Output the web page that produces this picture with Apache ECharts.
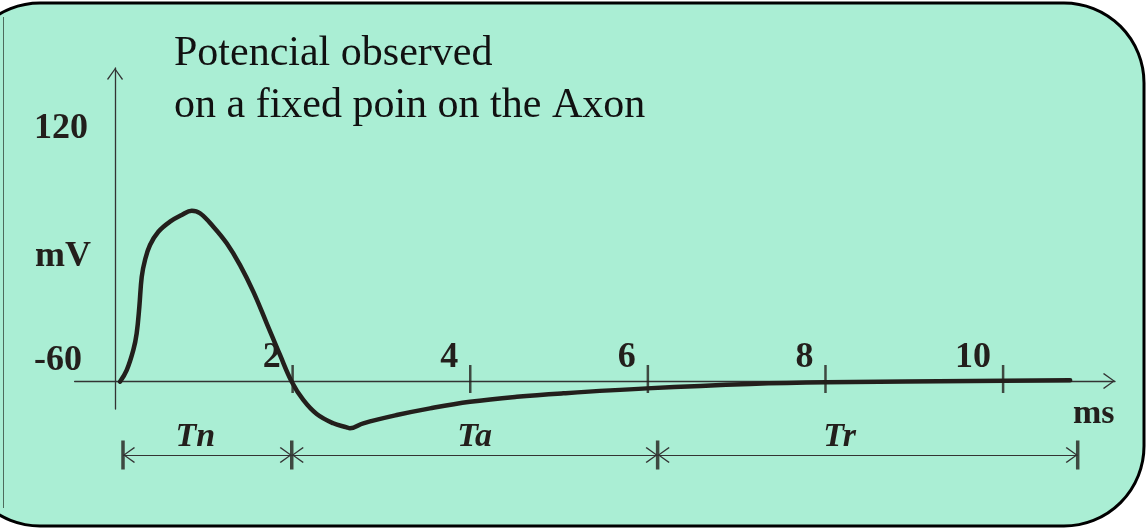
<!DOCTYPE html>
<html>
<head>
<meta charset="utf-8">
<script src="https://cdn.jsdelivr.net/npm/echarts@6/dist/echarts.min.js"></script>
<style>
  body { margin: 0; background: #fff; }
  #chart { width: 1146px; height: 529px; }
</style>
</head>
<body>
<div id="chart"></div>
<script>
  // 曲线：时间(ms) 和 膜电位(mV)
  var timeMs = [0.056, 0.132, 0.206, 0.244, 0.274, 0.301, 0.338, 0.394, 0.488, 0.619, 0.751, 0.864,
                0.957, 1.107, 1.258, 1.408, 1.557, 1.708, 1.858, 1.990, 2.120, 2.271, 2.458, 2.609,
                2.646, 2.796, 3.172, 3.547, 3.998, 4.524, 5.048, 5.988, 7.151, 8.007, 10.755];
  var potential = [-60.5, -51.5, -36.0, -23.0, -2.4, 20.9, 33.9, 45.5, 55.8, 63.6, 68.8, 72.1,
                   70.1, 59.7, 46.8, 29.9, 9.3, -15.2, -39.8, -60.5, -74.7, -85.6, -92.8, -95.9,
                   -96.7, -92.8, -86.4, -81.2, -76.1, -72.2, -69.5, -65.7, -62.3, -61.0, -59.4];
  var restPotential = -60;
  var xTicks = [2, 4, 6, 8, 10];
  var yLabels = [-60, 120];
  // 三个阶段
  var phaseNames = ['Tn', 'Ta', 'Tr'];
  var phaseStart = [0.09, 1.99, 6.11];
  var phaseEnd = [1.99, 6.11, 10.84];
  var phaseLabelShift = [12, 0, 28];

  var font = 'Liberation Serif';
  var ink = '#231f1c';
  // 开口箭头，尖端在图形中心
  var chevron = 'path://M0,-12L0,-12M0,0L8,11L7,12L0,2L-7,12L-8,11Z';

  var curve = timeMs.map(function (t, i) { return [t, potential[i]]; });
  var tickMarks = xTicks.map(function (t) { return [t, restPotential]; });
  var phaseEdges = phaseStart.concat([phaseEnd[phaseEnd.length - 1]]).map(function (t) { return [t, 0.5]; });
  var phaseLines = phaseNames.map(function (n, i) {
    return [
      { name: n, coord: [phaseStart[i], 0.5], label: { padding: [0, phaseLabelShift[i] * 2, 0, 0] } },
      { coord: [phaseEnd[i], 0.5] }
    ];
  });

  var xMin = -0.455, xMax = 11.26;
  var yMin = -81.7, yMax = 182.8;

  var myChart = echarts.init(document.getElementById('chart'));
  var option = {
    animation: false,
    backgroundColor: '#fff',
    graphic: [
      {
        type: 'rect', z: -1,
        shape: { x: -40, y: 3, width: 1184, height: 523, r: 80 },
        style: { fill: '#aaeed4', stroke: '#000', lineWidth: 3 }
      },
      {
        type: 'line', z: -1,
        shape: { x1: 3.5, y1: 17, x2: 3.5, y2: 508 },
        style: { stroke: '#4d6b5c', lineWidth: 1 }
      }
    ],
    title: {
      text: 'Potencial observed\non a fixed poin on the Axon',
      left: 174,
      top: 28,
      padding: 0,
      textStyle: { fontFamily: font, fontSize: 42, fontWeight: 'normal', lineHeight: 52, color: '#111' }
    },
    grid: [
      { left: 74.6, right: 31, top: 68, bottom: 120, outerBoundsMode: 'none' },
      { left: 74.6, right: 31, top: 430, height: 50, outerBoundsMode: 'none' }
    ],
    xAxis: [
      {
        type: 'value', gridIndex: 0, min: xMin, max: xMax,
        axisLine: {
          onZero: true, onZeroAxisIndex: 1,
          symbol: ['none', chevron], symbolSize: [16, 24],
          lineStyle: { color: '#333', width: 1.3 }
        },
        axisTick: { show: false },
        splitLine: { show: false },
        axisLabel: {
          inside: true, customValues: xTicks, align: 'right', verticalAlign: 'bottom',
          padding: [0, 12, 0, 0], margin: 33,
          fontFamily: font, fontSize: 36, fontWeight: 'bold', lineHeight: 36, color: ink
        },
        name: 'ms',
        nameLocation: 'end',
        nameGap: -42,
        nameTextStyle: {
          fontFamily: font, fontSize: 34, fontWeight: 'bold', color: ink,
          align: 'left', verticalAlign: 'top', padding: [16, 0, 0, 0]
        }
      },
      { type: 'value', gridIndex: 1, min: xMin, max: xMax, show: false }
    ],
    yAxis: [
      {
        type: 'value', gridIndex: 0, min: yMin, max: yMax,
        axisLine: {
          onZero: true,
          symbol: ['none', chevron], symbolSize: [16, 24],
          lineStyle: { color: '#333', width: 1.3 }
        },
        axisTick: { show: false },
        splitLine: { show: false },
        axisLabel: {
          customValues: yLabels, align: 'left', verticalAlign: 'bottom', margin: 40.6, padding: [0, 0, 2, 0],
          fontFamily: font, fontSize: 36, fontWeight: 'bold', lineHeight: 36, color: ink
        },
        name: 'mV',
        nameLocation: 'middle',
        nameRotate: 0,
        nameGap: -16.4,
        nameMoveOverlap: false,
        nameTextStyle: {
          fontFamily: font, fontSize: 36, fontWeight: 'bold', color: ink,
          align: 'right', verticalAlign: 'top'
        }
      },
      // 以静息电位为零点的隐藏轴，让横轴落在 -60 mV
      { type: 'value', gridIndex: 0, min: yMin - restPotential, max: yMax - restPotential, show: false },
      { type: 'value', gridIndex: 1, min: 0, max: 1, show: false }
    ],
    series: [
      {
        name: 'potential',
        type: 'line',
        xAxisIndex: 0, yAxisIndex: 0,
        data: curve,
        smooth: 0.4,
        symbol: 'none',
        clip: false,
        lineStyle: { color: ink, width: 4.5, join: 'round', cap: 'round' },
        z: 3
      },
      {
        name: 'ticks',
        type: 'scatter',
        xAxisIndex: 0, yAxisIndex: 0,
        data: tickMarks,
        symbol: 'rect',
        symbolSize: [2.5, 28],
        symbolOffset: [0, -2],
        itemStyle: { color: ink },
        silent: true,
        z: 4
      },
      {
        name: 'phases',
        type: 'scatter',
        xAxisIndex: 1, yAxisIndex: 2,
        data: phaseEdges,
        symbol: 'rect',
        symbolSize: [3.5, 29],
        itemStyle: { color: ink },
        silent: true,
        markLine: {
          silent: true,
          symbol: [chevron, chevron],
          symbolSize: [16, 24],
          lineStyle: { color: '#333', width: 1, type: 'solid' },
          label: {
            show: true, position: 'insideMiddleTop', formatter: '{b}', distance: 1,
            fontFamily: font, fontSize: 34, fontStyle: 'italic', fontWeight: 'bold', color: ink
          },
          data: phaseLines
        }
      }
    ]
  };
  myChart.setOption(option);
</script>
</body>
</html>
